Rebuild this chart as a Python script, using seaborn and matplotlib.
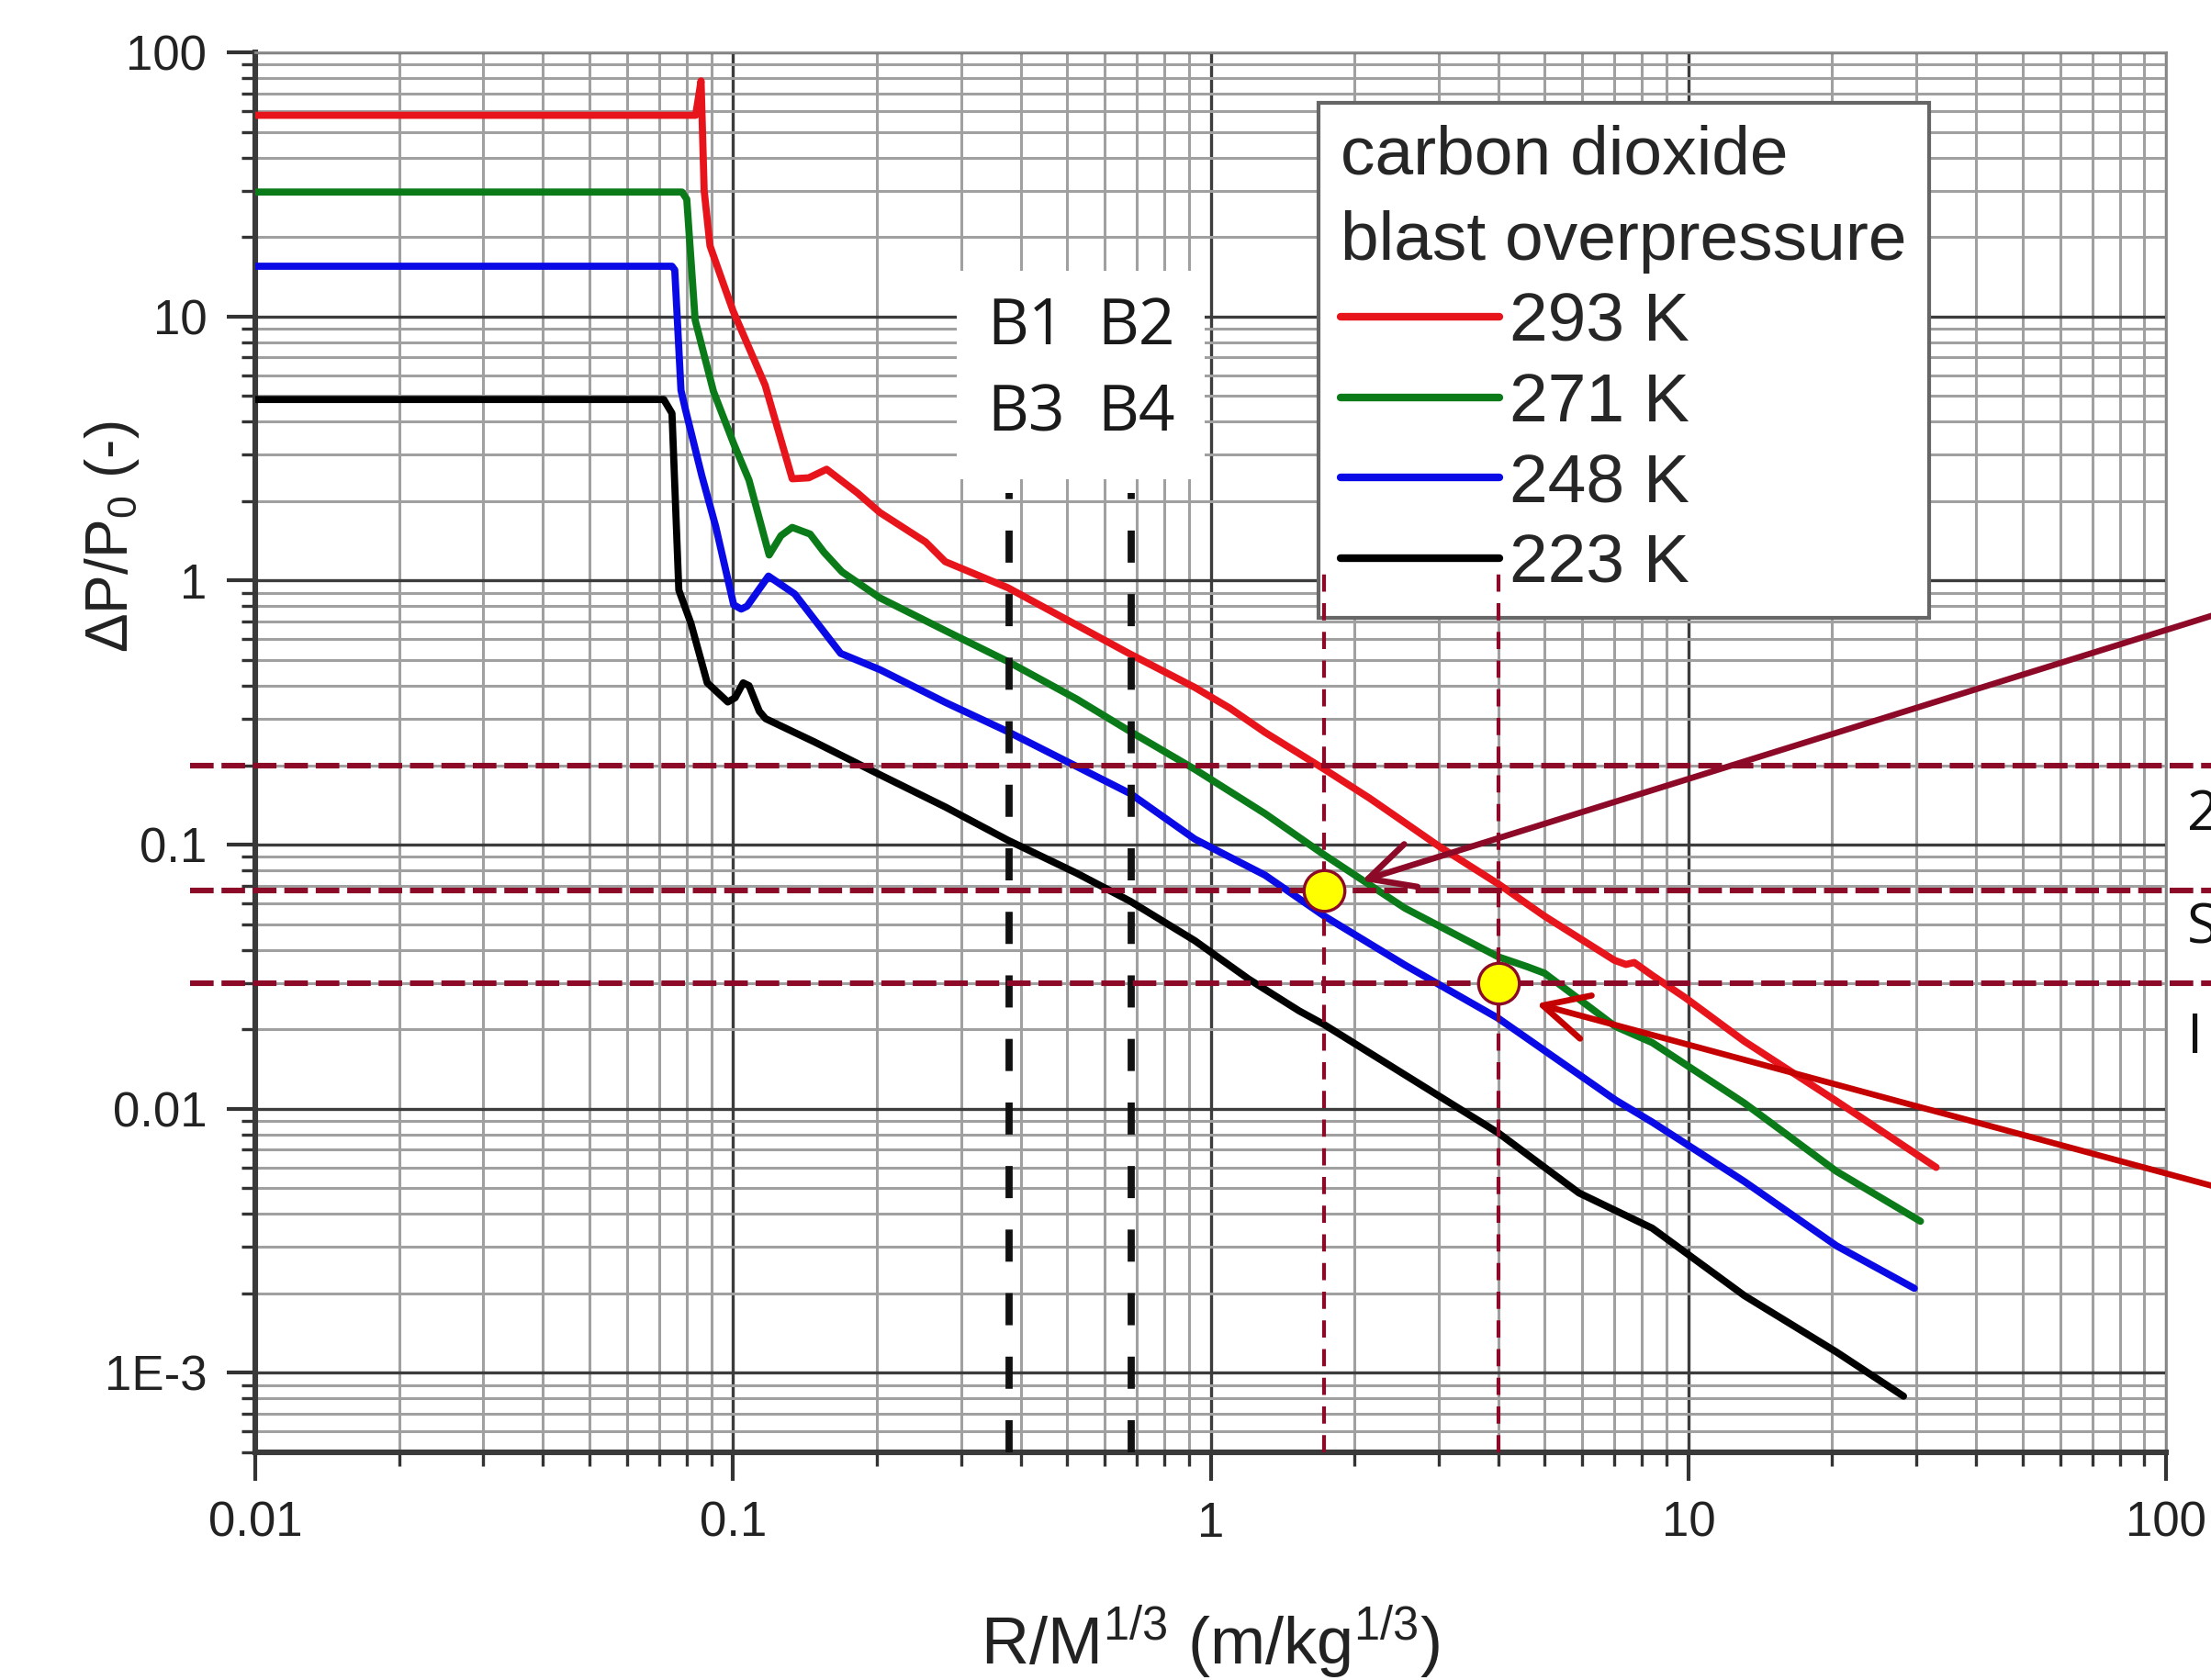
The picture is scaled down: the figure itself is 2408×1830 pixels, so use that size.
import matplotlib
matplotlib.use("Agg")
import matplotlib.pyplot as plt
from matplotlib.lines import Line2D
from matplotlib.patches import Rectangle
from matplotlib.ticker import FixedLocator, LogLocator, NullFormatter, FixedFormatter
import seaborn as sns
import pandas as pd

## ---- values ----
TEMPS = ["293 K", "271 K", "248 K", "223 K"]
COLORS = ["#e8141c", "#0b7a18", "#0a0ae6", "#000000"]

R_293 = [0.01, 0.0835, 0.0857, 0.087, 0.0895, 0.0953, 0.100, 0.1167, 0.133, 0.144, 0.157, 0.182,
         0.203, 0.253, 0.278, 0.376, 0.674, 0.926, 1.096, 1.30, 1.73, 2.15, 3.02, 4.0, 5.0,
         7.0, 7.4, 7.7, 8.4, 9.86, 13.1, 20.4, 33.0]
P_293 = [57.8, 57.8, 78, 30, 18.5, 13.4, 10.5, 5.5, 2.43, 2.45, 2.64, 2.15,
         1.81, 1.40, 1.18, 0.94, 0.53, 0.394, 0.329, 0.266, 0.193, 0.150, 0.098, 0.071, 0.0536,
         0.0365, 0.0352, 0.0358, 0.032, 0.0263, 0.018, 0.0107, 0.0060]

R_271 = [0.01, 0.0782, 0.080, 0.0833, 0.091, 0.1003, 0.108, 0.119, 0.126, 0.133, 0.145, 0.155,
         0.169, 0.203, 0.278, 0.376, 0.524, 0.679, 0.926, 1.30, 1.73, 2.55, 4.0, 4.6, 5.0,
         7.03, 8.4, 13.1, 20.4, 30.6]
P_271 = [29.6, 29.6, 27.8, 9.7, 5.2, 3.3, 2.4, 1.25, 1.48, 1.59, 1.50, 1.28,
         1.08, 0.86, 0.647, 0.494, 0.356, 0.268, 0.193, 0.131, 0.0914, 0.0575, 0.0376, 0.0345, 0.0326,
         0.0205, 0.0178, 0.0105, 0.0058, 0.00375]

R_248 = [0.01, 0.0745, 0.0755, 0.0778, 0.0794, 0.086, 0.092, 0.1003, 0.104, 0.107, 0.1186, 0.1346,
         0.168, 0.203, 0.278, 0.376, 0.679, 0.926, 1.30, 1.73, 2.55, 4.0, 7.03, 8.4, 13.1,
         20.4, 29.7]
P_248 = [15.5, 15.5, 15.0, 5.26, 4.48, 2.5, 1.6, 0.81, 0.78, 0.80, 1.04, 0.89,
         0.53, 0.46, 0.346, 0.268, 0.156, 0.105, 0.0766, 0.0536, 0.035, 0.022, 0.0108, 0.0089, 0.0053,
         0.00303, 0.00209]

R_223 = [0.01, 0.0716, 0.0745, 0.077, 0.0816, 0.0883, 0.0975, 0.101, 0.105, 0.108, 0.1135, 0.117,
         0.148, 0.203, 0.278, 0.376, 0.524, 0.679, 0.926, 1.20, 1.53, 1.73, 4.0, 5.9, 8.4,
         13.1, 20.4, 28.2]
P_223 = [4.85, 4.85, 4.3, 0.92, 0.69, 0.41, 0.347, 0.36, 0.41, 0.40, 0.32, 0.30,
         0.245, 0.184, 0.139, 0.104, 0.078, 0.061, 0.0433, 0.031, 0.0235, 0.0208, 0.0081, 0.0048, 0.00353,
         0.00196, 0.0012, 0.000816]

X_TICKS = [0.01, 0.1, 1, 10, 100]
X_TICK_LABELS = ["0.01", "0.1", "1", "10", "100"]
Y_TICKS = [1e-3, 0.01, 0.1, 1, 10, 100]
Y_TICK_LABELS = ["1E-3", "0.01", "0.1", "1", "10", "100"]

B_LINES = [0.378, 0.683]
B_TOP = 2.15
B_LABELS = ["B1", "B2", "B3", "B4"]
B_LABEL_X = [0.41, 0.698, 0.41, 0.698]
B_LABEL_Y = [9.1, 9.1, 4.26, 4.26]

LEVELS = [0.2, 0.067, 0.03]
MARK_R = [1.73, 4.0]
MARK_P = [0.067, 0.03]
MARK_TOP = 1.11
SIDE_TEXT = ["2", "S", "I"]

MAROON = "#8c0a28"
ARROW_RED = "#c40000"

## ---- long table for seaborn ----
series = [(R_293, P_293), (R_271, P_271), (R_248, P_248), (R_223, P_223)]
frames = []
for name, (r, p) in zip(TEMPS, series):
    frames.append(pd.DataFrame({"R": r, "dP": p, "T": name}))
df = pd.concat(frames, ignore_index=True)

sns.set_style("white")
plt.rcParams["font.family"] = ["Liberation Sans", "DejaVu Sans"]
plt.rcParams["mathtext.fontset"] = "custom"
plt.rcParams["mathtext.rm"] = "Liberation Sans"
plt.rcParams["mathtext.it"] = "Liberation Sans"
plt.rcParams["mathtext.bf"] = "Liberation Sans"

fig = plt.figure(figsize=(12.04, 9.15), dpi=200)
ax = fig.add_axes([0.1155, 0.1355, 0.8642, 0.8333])

sns.lineplot(data=df, x="R", y="dP", hue="T", hue_order=TEMPS, palette=COLORS,
             sort=False, estimator=None, lw=2.8, legend=False, ax=ax, zorder=3)

ax.set_xscale("log")
ax.set_yscale("log")
ax.set_xlim(0.01, 100)
ax.set_ylim(5e-4, 100)

# ticks
ax.xaxis.set_major_locator(FixedLocator(X_TICKS))
ax.xaxis.set_major_formatter(FixedFormatter(X_TICK_LABELS))
ax.yaxis.set_major_locator(FixedLocator(Y_TICKS))
ax.yaxis.set_major_formatter(FixedFormatter(Y_TICK_LABELS))
ax.xaxis.set_minor_locator(LogLocator(base=10, subs=range(2, 10), numticks=20))
ax.yaxis.set_minor_locator(LogLocator(base=10, subs=range(2, 10), numticks=20))
ax.xaxis.set_minor_formatter(NullFormatter())
ax.yaxis.set_minor_formatter(NullFormatter())
ax.tick_params(which="major", direction="out", length=11, width=1.5, labelsize=19,
               pad=8, color="#333333", labelcolor="#222222", bottom=True, left=True)
ax.tick_params(which="minor", direction="out", length=5.5, width=1.2, color="#333333",
               bottom=True, left=True)

# grid
ax.set_axisbelow(True)
ax.grid(which="major", color="#3c3c3c", lw=1.2)
ax.grid(which="minor", color="#a0a0a0", lw=1.1)

for side in ["left", "bottom"]:
    ax.spines[side].set_color("#3a3a3a")
    ax.spines[side].set_linewidth(2.2)
for side in ["top", "right"]:
    ax.spines[side].set_color("#8a8a8a")
    ax.spines[side].set_linewidth(1.0)

ax.set_xlabel(r"R/M$^{1/3}$ (m/kg$^{1/3}$)", fontsize=26, color="#222222")
ax.set_ylabel(r"$\Delta$P/P$_0$ (-)", fontsize=23, color="#222222")
ax.xaxis.set_label_coords(0.5, -0.108)
ax.yaxis.set_label_coords(-0.0596, 0.654)

# white box behind the B labels
ax.add_patch(Rectangle((0.294, 2.43), 0.972 - 0.294, 14.9 - 2.43,
                       facecolor="white", edgecolor="none", zorder=1))
for lab, bx, by in zip(B_LABELS, B_LABEL_X, B_LABEL_Y):
    ax.text(bx, by, lab, fontsize=25, family=["Open Sans", "DejaVu Sans"],
            ha="center", va="center", color="#1a1a1a", zorder=4)

# black dashed B lines
ax.vlines(B_LINES, 5e-4, B_TOP, colors="#111111", lw=2.8,
          linestyles=(0, (4.5, 4.4)), zorder=4)

# maroon threshold lines
for lv in LEVELS:
    ax.axhline(lv, xmin=-0.034, xmax=1.03, color=MAROON, lw=2.2,
               dashes=(4.2, 1.4), clip_on=False, zorder=4)
ax.vlines(MARK_R, 5e-4, MARK_TOP, colors=MAROON, lw=1.5,
          linestyles=(0, (4.5, 3)), zorder=6)

# legend
handles = [Line2D([], [], color=c, lw=3.0) for c in COLORS]
leg = ax.legend(handles, TEMPS, title="carbon dioxide\nblast overpressure",
                loc="upper left", bbox_to_anchor=(0.5565, 0.964), borderaxespad=0,
                fontsize=27, title_fontsize=27, alignment="left", frameon=True,
                fancybox=False, edgecolor="#666666", framealpha=1,
                handlelength=2.3, handletextpad=0.15, labelspacing=0.25, borderpad=0.32)
leg.get_frame().set_linewidth(1.5)
leg.get_title().set_linespacing(1.45)
leg.set_zorder(5)

# yellow markers
ax.plot(MARK_R, MARK_P, ls="none", marker="o", ms=16, mfc="#ffff00",
        mec=MAROON, mew=1.2, zorder=7)

# arrows coming in from the right edge
ax.annotate("", xy=(2.07, 0.073), xycoords="data", xytext=(1.0133, 0.6388),
            textcoords="figure fraction",
            arrowprops=dict(arrowstyle="->,head_length=0.7,head_width=0.35", color=MAROON,
                            lw=2.4, mutation_scale=25, shrinkA=0, shrinkB=0),
            annotation_clip=False, zorder=8)
ax.annotate("", xy=(4.8, 0.025), xycoords="data", xytext=(1.0133, 0.2896),
            textcoords="figure fraction",
            arrowprops=dict(arrowstyle="->,head_length=0.7,head_width=0.35", color=ARROW_RED,
                            lw=2.4, mutation_scale=25, shrinkA=0, shrinkB=0),
            annotation_clip=False, zorder=8)

# text cut by the right edge, as in the source picture
for t, fy in zip(SIDE_TEXT, [1 - 888 / 1830, 1 - 1012 / 1830, 1 - 1131 / 1830]):
    fig.text(0.989, fy, t, fontsize=22, family=["Open Sans", "DejaVu Sans"],
             ha="left", va="center", color="#111111")

fig.savefig("out.png", dpi=200)
plt.close(fig)
